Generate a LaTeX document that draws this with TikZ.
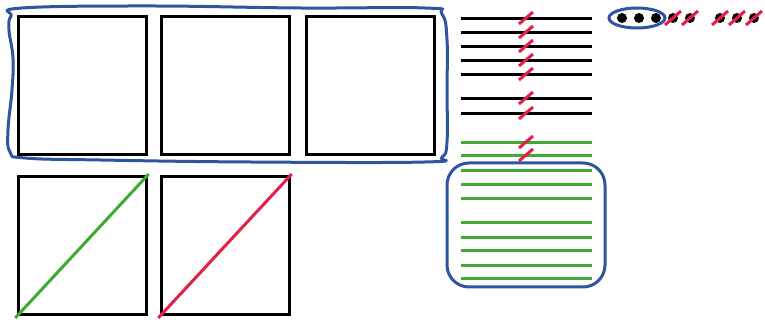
\documentclass[tikz,border=0pt]{standalone}
\usetikzlibrary{positioning}
\definecolor{hullblue}{RGB}{47,85,160}
\definecolor{wiregreen}{RGB}{62,170,52}
\definecolor{cutred}{RGB}{228,32,72}
\tikzset{
  frame/.style={draw, line width=3pt, minimum width=128pt, minimum height=138pt,
    inner sep=0pt, outer sep=0pt},
  wire/.style={line width=3pt},
  cut/.style={draw=cutred, line width=3pt},
  hull/.style={draw=hullblue, line width=3pt},
}

\begin{document}
\begin{tikzpicture}[x=1pt, y=1pt]
  \useasboundingbox (0,0) rectangle (765,320);

  % top row of frames
  \node [frame] (frameA) at (82,234) {};
  \node [frame, right=15pt of frameA] (frameB) {};
  \node [frame, right=17pt of frameB] (frameC) {};

  % bottom row, crossed frames
  \node [frame, below=22pt of frameA] (frameD) {};
  \node [frame, right=15pt of frameD] (frameE) {};
  \draw [wire, draw=wiregreen, shorten <=-4pt, shorten >=-4pt]
    (frameD.south west) -- (frameD.north east);
  \draw [wire, draw=cutred, shorten <=-4pt, shorten >=-4pt]
    (frameE.south west) -- (frameE.north east);

  % hand drawn hull round the top row
  \draw [hull] plot [smooth cycle, tension=0.7] coordinates {
    (11,304) (22,312) (150,314) (300,312) (425,312) (442,306)
    (447,280) (447,230) (447,178) (442,163) (425,158) (250,158) (100,160) (25,162)
    (10,168) (8,190) (12,230) (13,262) (9,290)};

  % wires
  \foreach \y in {301,287,273,259,245,221,206}
    \draw [wire] (461,\y) -- (592,\y);
  \foreach \y in {177,164,149,135,121,97,82,69,54,41}
    \draw [wire, draw=wiregreen] (461,\y) -- (592,\y);
  \foreach \y in {301,287,273,259,245,221,206,177,164}
    \draw [cut] (519,\y-5) -- (533,\y+7);

  % hull round the kept wires
  \draw [hull, rounded corners=22pt] (447,33) rectangle (605,157);

  % dots
  \draw [hull] (637,302) ellipse (28pt and 10pt);
  \foreach \x in {622,639,656,673,690,720,737,754}
    \fill (\x,302) circle (5pt);
  \foreach \x in {673,690,720,737,754}
    \draw [cut] (\x-8,295) -- (\x+8,309);
\end{tikzpicture}
\end{document}
